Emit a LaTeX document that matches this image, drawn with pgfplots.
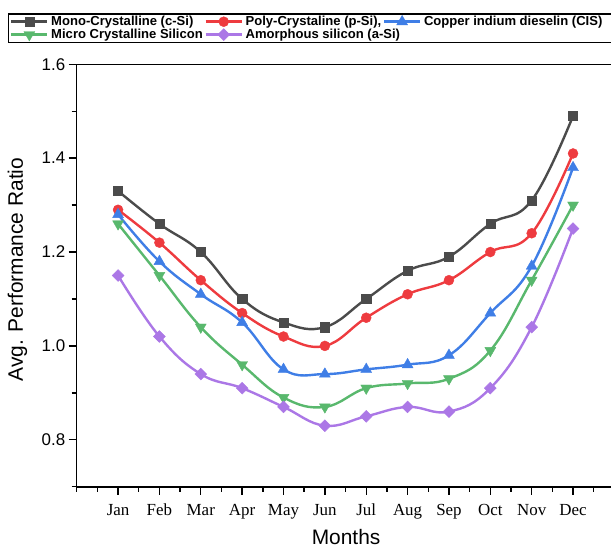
\documentclass[border=0pt]{standalone}
\usepackage{pgfplots}
\usepackage{pgfplotstable}
\pgfplotsset{compat=1.18}
\usepackage{fontspec}
\setmainfont{Liberation Sans}
\newfontfamily\monthfont{Liberation Serif}

\definecolor{cmono}{HTML}{4B4B4B}
\definecolor{cpoly}{HTML}{EE3B3F}
\definecolor{ccis}{HTML}{3F7EE6}
\definecolor{cmicro}{HTML}{59B86D}
\definecolor{camor}{HTML}{AB77E6}

% Monthly average performance ratio of each PV technology
\pgfplotstableread{
m  mono  poly  cis   micro amor
1  1.33  1.29  1.28  1.26  1.15
2  1.26  1.22  1.18  1.15  1.02
3  1.20  1.14  1.11  1.04  0.94
4  1.10  1.07  1.05  0.96  0.91
5  1.05  1.02  0.95  0.89  0.87
6  1.04  1.00  0.94  0.87  0.83
7  1.10  1.06  0.95  0.91  0.85
8  1.16  1.11  0.96  0.92  0.87
9  1.19  1.14  0.98  0.93  0.86
10 1.26  1.20  1.07  0.99  0.91
11 1.31  1.24  1.17  1.14  1.04
12 1.49  1.41  1.38  1.30  1.25
}\perf

\begin{document}
\begin{tikzpicture}
\begin{axis}[
  scale only axis,
  width=537.7bp, height=422.4bp,
  xmin=0, xmax=13, ymin=0.7, ymax=1.6,
  xtick={1,...,12},
  xticklabels={Jan,Feb,Mar,Apr,May,Jun,Jul,Aug,Sep,Oct,Nov,Dec},
  minor xtick={0,0.5,...,12.5},
  ytick={0.8,1.0,1.2,1.4,1.6},
  minor ytick={0.7,0.9,1.1,1.3,1.5},
  tick align=outside, tick pos=left,
  major tick length=8bp, minor tick length=5bp,
  axis line style={line width=1.6bp},
  every tick/.style={black, line width=1.4bp},
  xticklabel style={font=\monthfont\fontsize{17}{20}\selectfont, yshift=-6bp},
  yticklabel style={font=\fontsize{17}{20}\selectfont,
    /pgf/number format/.cd, fixed, fixed zerofill, precision=1, assume math mode=true},
  xlabel={Months},
  ylabel={Avg. Performance Ratio},
  xlabel style={font=\fontsize{21}{25}\selectfont, at={(axis description cs:0.501,-0.1357)}, anchor=base},
  ylabel style={font=\fontsize{21}{25}\selectfont, at={(axis description cs:-0.110,0.514)}, anchor=center},
  legend columns=3,
  legend cell align=left,
  legend style={name=lgd, at={(-0.1273,1.119)}, anchor=north west, draw=none,
    font=\bfseries\fontsize{13.1}{15}\selectfont,
    inner xsep=1.5bp, inner ysep=1bp, row sep=0bp,
    nodes={inner xsep=0.5bp, inner ysep=1bp},
    /tikz/every odd column/.append style={column sep=2bp},
    /tikz/every even column/.append style={column sep=1bp}},
  legend image code/.code={
    \draw[line width=2.8bp, mark repeat=2, mark phase=2] plot coordinates {(0bp,0bp) (18bp,0bp) (36bp,0bp)};
  },
  every axis plot/.append style={line width=2.4bp, smooth, tension=0.7},
]
\addplot[cmono, mark=square*, mark size=4.6bp, mark options={line width=0.4bp}] table[x=m, y=mono]{\perf};
\addlegendentry{Mono-Crystalline (c-Si)}
\addplot[cpoly, mark=*, mark size=5bp, mark options={line width=0.4bp}] table[x=m, y=poly]{\perf};
\addlegendentry{Poly-Crystaline (p-Si),}
\addplot[ccis, mark=triangle*, mark size=6.3bp, mark options={line width=0.4bp}] table[x=m, y=cis]{\perf};
\addlegendentry{Copper indium dieselin (CIS)}
\addplot[cmicro, mark=triangle*, mark size=6.3bp, mark options={line width=0.4bp, rotate=180}] table[x=m, y=micro]{\perf};
\addlegendentry{Micro Crystalline Silicon}
\addplot[camor, mark=square*, mark size=4.2bp, mark options={line width=0.4bp, rotate=45}] table[x=m, y=amor]{\perf};
\addlegendentry{\makebox[0pt][l]{Amorphous silicon (a-Si)}}
\end{axis}
% legend frame, running on past the right edge of the page
\draw[line width=1.2bp] (lgd.north west) rectangle ([xshift=30bp]lgd.south east);
\pgfresetboundingbox
\path (-76.7bp,-60.3bp) rectangle (534.3bp,486.7bp);
\end{tikzpicture}
\end{document}
